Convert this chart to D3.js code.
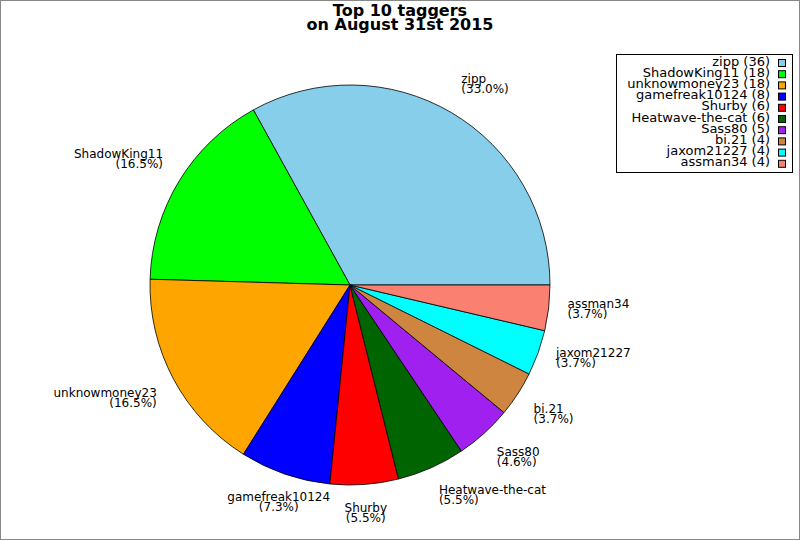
<!DOCTYPE html>
<html lang="en">
<head>
    <meta charset="UTF-8">
    <title>Top 10 taggers</title>
    <script src="https://d3js.org/d3.v7.min.js"></script>
    <style>
        body { margin: 0; background: #fff; }
        svg { font-family: "DejaVu Sans", sans-serif; display: block; }
    </style>
</head>
<body>
    <svg></svg>
    <script>
        // data
        const taggers = ["zipp", "ShadowKing11", "unknowmoney23", "gamefreak10124", "Shurby",
                         "Heatwave-the-cat", "Sass80", "bi.21", "jaxom21227", "assman34"];
        const counts = [36, 18, 18, 8, 6, 6, 5, 4, 4, 4];
        const colors = ["#87ceeb", "#00ff00", "#ffa500", "#0000ff", "#ff0000",
                        "#006400", "#a020f0", "#cd853f", "#00ffff", "#fa8072"];
        const titleLines = ["Top 10 taggers", "on August 31st 2015"];

        const width = 800, height = 540;
        const cx = 350, cy = 285, radius = 200, labelRadius = 219;

        const svg = d3.select("svg")
            .attr("width", width)
            .attr("height", height);

        // outer frame
        svg.append("rect")
            .attr("x", 0.5).attr("y", 0.5)
            .attr("width", width - 1).attr("height", height - 1)
            .attr("fill", "#fff")
            .attr("stroke", "#888");

        // title
        svg.append("text")
            .attr("x", 400)
            .attr("text-anchor", "middle")
            .attr("font-size", "16px")
            .attr("font-weight", "bold")
            .selectAll("tspan")
            .data(titleLines)
            .enter().append("tspan")
            .attr("x", 400)
            .attr("y", (d, i) => 16 + i * 13.5)
            .text(d => d);

        const data = taggers.map((name, i) => ({ name, count: counts[i], color: colors[i] }));
        const total = d3.sum(counts);

        // counter-clockwise from 3 o'clock
        const pie = d3.pie()
            .value(d => d.count)
            .sort(null)
            .startAngle(Math.PI / 2)
            .endAngle(Math.PI / 2 - 2 * Math.PI);

        const arc = d3.arc().innerRadius(0).outerRadius(radius);
        const arcs = pie(data);

        const g = svg.append("g")
            .attr("transform", "translate(" + cx + "," + cy + ")");

        g.selectAll("path")
            .data(arcs)
            .enter().append("path")
            .attr("d", arc)
            .attr("fill", d => d.data.color)
            .attr("stroke", "#000")
            .attr("stroke-width", 0.8);

        // slice labels
        const labels = g.selectAll("text.lbl")
            .data(arcs)
            .enter().append("text")
            .attr("class", "lbl")
            .attr("font-size", "12px")
            .attr("fill", "#000");

        labels.each(function(d) {
            const mid = (d.startAngle + d.endAngle) / 2;
            const ux = Math.sin(mid), uy = -Math.cos(mid);
            const x = ux * labelRadius, y = uy * labelRadius;
            let anchor = "middle";
            if (ux > 0.35) anchor = "start";
            else if (ux < -0.35) anchor = "end";
            let base;   // baseline of first line
            if (uy > 0.4) base = y + 9;
            else if (uy < -0.4) base = y - 13;
            else base = y - 2;
            const t = d3.select(this).attr("text-anchor", anchor);
            t.append("tspan").attr("x", x).attr("y", base).text(d.data.name);
            t.append("tspan").attr("x", x).attr("y", base + 10)
                .text("(" + (d.data.count / total * 100).toFixed(1) + "%)");
        });

        // legend
        const legend = svg.append("g");
        legend.append("rect")
            .attr("x", 616.5).attr("y", 54.5)
            .attr("width", 176).attr("height", 118)
            .attr("fill", "#fff")
            .attr("stroke", "#000");

        const rows = legend.selectAll("g.row")
            .data(data)
            .enter().append("g")
            .attr("class", "row")
            .attr("transform", (d, i) => "translate(0," + (65.5 + i * 11.2) + ")");

        rows.append("text")
            .attr("x", 770)
            .attr("text-anchor", "end")
            .attr("font-size", "13px")
            .text(d => d.name + " (" + d.count + ")");

        rows.append("rect")
            .attr("x", 778.5).attr("y", -6)
            .attr("width", 7).attr("height", 7)
            .attr("fill", d => d.color)
            .attr("stroke", "#000");
    </script>
</body>
</html>
